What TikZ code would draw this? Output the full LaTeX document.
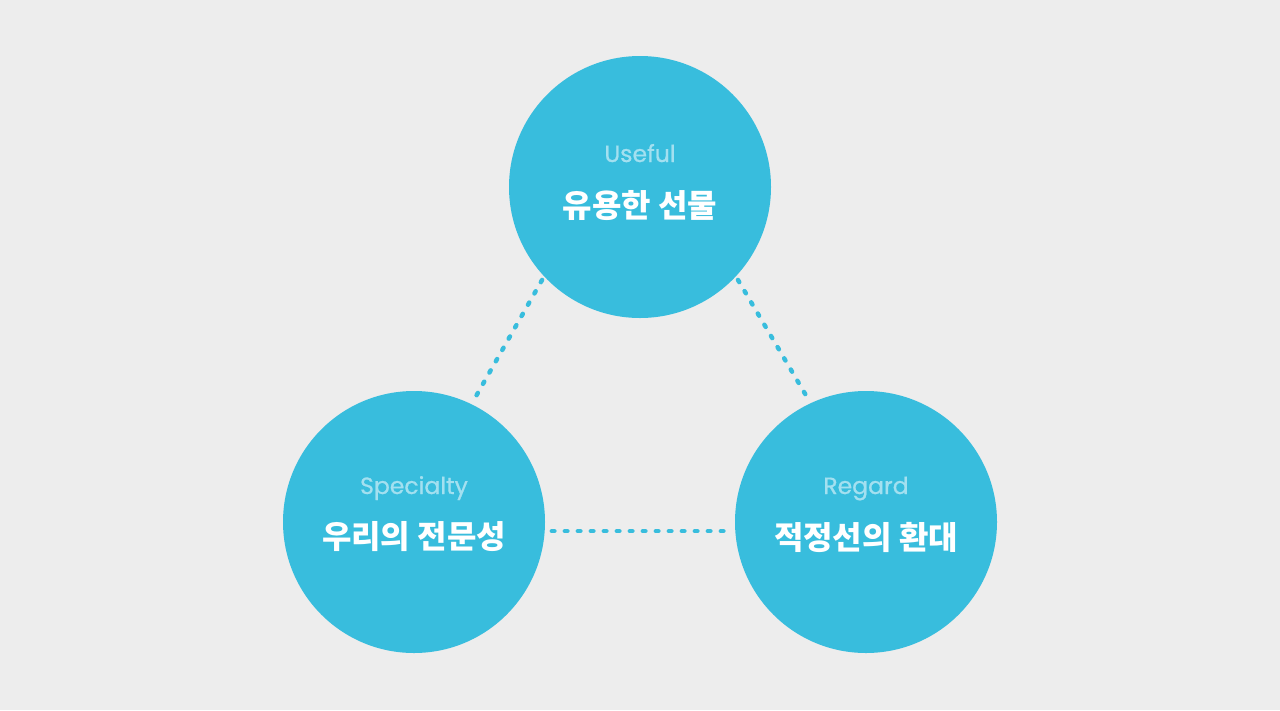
\documentclass[tikz,border=0pt]{standalone}
\usepackage{fontspec}
\newfontfamily\krfont{Noto Sans CJK KR}
\newfontfamily\latfont{Poppins}[FakeBold=0.9]
\definecolor{bg}{HTML}{EDEDED}
\definecolor{cyanfill}{HTML}{38BDDD}
\definecolor{lighttext}{HTML}{A3E0F0}
\begin{document}
\begin{tikzpicture}[x=1pt,y=-1pt,
  bubble/.style={circle,fill=cyanfill,minimum size=262pt,inner sep=0pt},
  entitle/.style={text=lighttext,font=\latfont\fontsize{23.5}{26}\selectfont,inner sep=0pt,anchor=base},
  krtitle/.style={text=white,font=\krfont\bfseries\fontsize{32}{36}\selectfont,inner sep=0pt},
  dotline/.style={cyanfill,line width=4.5pt,line cap=round,dash pattern=on 2.5pt off 10.5pt}]
\fill[bg] (0,0) rectangle (1280,710);
\useasboundingbox (0,0) rectangle (1280,710);
\node[bubble] (top) at (640,187) {};
\node[bubble] (left) at (414,522) {};
\node[bubble] (right) at (866,522) {};
\node[entitle] (topen) at (640,162) {Useful};
\node[krtitle] (topkr) at (640,206) {유용한 선물};
\node[entitle] (leften) at (414,494) {Specialty};
\node[krtitle] (leftkr) at (414,537) {우리의 전문성};
\node[entitle] (righten) at (866,494) {Regard};
\node[krtitle] (rightkr) at (866,537) {적정선의 환대};
\draw[dotline,shorten <=4pt,shorten >=8pt] (top.223) -- (left.64.5);
\draw[dotline,shorten <=4pt,shorten >=8pt] (top.317) -- (right.115.5);
\draw[dotline,shorten <=7pt,shorten >=7pt] (left.-4.1) -- (right.184.1);
\end{tikzpicture}
\end{document}
